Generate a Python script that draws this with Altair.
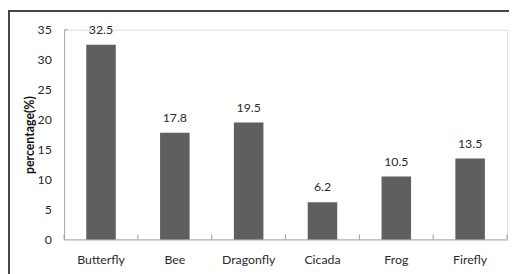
import altair as alt
import pandas as pd

categories = ["Butterfly", "Bee", "Dragonfly", "Cicada", "Frog", "Firefly"]
values = [32.5, 17.8, 19.5, 6.2, 10.5, 13.5]
y_ticks = [0, 5, 10, 15, 20, 25, 30, 35]

df = pd.DataFrame({"cat": categories, "val": values, "lab": [f"{v:.1f}" for v in values]})
last_df = pd.DataFrame({"cat": [categories[-1]]})
top_df = pd.DataFrame({"val": [y_ticks[-1]]})

FONT = "Lato"
AX = "#a8a8a8"
TXT = "#2a2a2a"

xscale = alt.Scale(domain=categories, paddingInner=0, paddingOuter=0)
yscale = alt.Scale(domain=[0, 35])

xaxis = alt.Axis(title=None, labelAngle=0, ticks=False, tickSize=0, domainColor=AX,
                 labelPadding=14, labelFont=FONT, labelFontSize=12.5, labelColor=TXT)
yaxis = alt.Axis(title="percentage(%)", values=y_ticks, grid=False, ticks=False, tickSize=0,
                 domainColor=AX, labelPadding=13, labelFont=FONT, labelFontSize=12.5,
                 labelColor=TXT, labelOverlap=False, titleFont=FONT, titleFontSize=12.5,
                 titleFontWeight="bold", titleColor="#111111", titlePadding=1)

def xs(bp=None):
    if bp is None:
        return alt.X("cat:N", sort=categories, scale=xscale, axis=xaxis)
    return alt.X("cat:N", sort=categories, scale=xscale, axis=xaxis, bandPosition=bp)

ys = alt.Y("val:Q", scale=yscale, axis=yaxis)

base = alt.Chart(df)
bars = base.mark_bar(color="#5f5f5f", width=alt.RelativeBandSize(0.4)).encode(x=xs(), y=ys)
text = base.mark_text(font=FONT, fontSize=12.5, color=TXT, baseline="alphabetic", dy=-11).encode(
    x=xs(), y=ys, text="lab:N")
xt = base.mark_rule(color="#9a9a9a", strokeWidth=1).encode(
    x=xs(0), y=alt.value(208), y2=alt.value(213))
xt_last = alt.Chart(last_df).mark_rule(color="#9a9a9a", strokeWidth=1).encode(
    x=xs(1), y=alt.value(208), y2=alt.value(213))
yt = alt.Chart(top_df).mark_rule(color=AX, strokeWidth=1).encode(
    y=ys, x=alt.value(0), x2=alt.value(4))
frame = alt.Chart(last_df).mark_rect(fill="transparent", stroke="#454545", strokeWidth=2).encode(
    x=alt.value(-56), y=alt.value(-19), x2=alt.value(700), y2=alt.value(500))

chart = alt.layer(bars, frame, text, xt, xt_last, yt).properties(
    width=450, height=213,
    autosize=alt.AutoSizeParams(type="none"),
    padding={"left": 57, "top": 20, "right": 2, "bottom": 33},
).configure_view(strokeWidth=0).configure(background="white")

chart.save("out.html", embed_options={"renderer": "svg", "actions": False})
